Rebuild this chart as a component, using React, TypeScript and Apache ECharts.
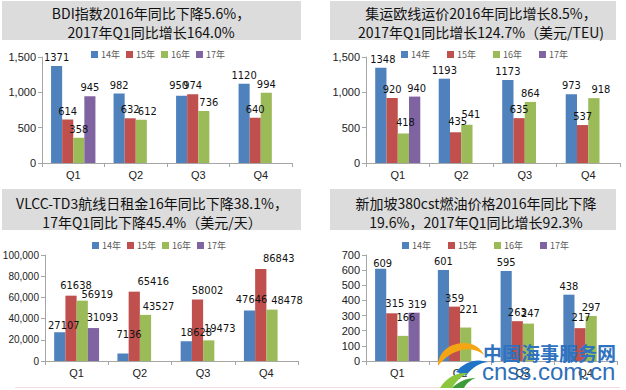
import React, { useEffect, useRef } from "react";
import * as echarts from "echarts";

const categories = ["Q1", "Q2", "Q3", "Q4"];
const seriesNames = ["14年", "15年", "16年", "17年"];
const colors = ["#4F81BD", "#C0504D", "#9BBB59", "#8064A2"];

// Panel 1: BDI
const bdi14 = [1371, 982, 950, 1120];
const bdi15 = [614, 632, 974, 640];
const bdi16 = [358, 612, 736, 994];
const bdi17 = [945, null, null, null];

// Panel 2: container freight Europe line
const box14 = [1348, 1193, 1173, 973];
const box15 = [920, 435, 635, 537];
const box16 = [418, 541, 864, 918];
const box17 = [940, null, null, null];

// Panel 3: VLCC-TD3
const vlcc14 = [27107, 7136, 18628, 47646];
const vlcc15 = [61638, 65416, 58002, 86843];
const vlcc16 = [56919, 43527, 19473, 48478];
const vlcc17 = [31093, null, null, null];

// Panel 4: Singapore 380cst
const fuel14 = [609, 601, 595, 438];
const fuel15 = [315, 359, 263, 217];
const fuel16 = [166, 221, 247, 297];
const fuel17 = [319, null, null, null];

const titles = [
  "BDI指数2016年同比下降5.6%，\n2017年Q1同比增长164.0%",
  "集运欧线运价2016年同比增长8.5%，\n2017年Q1同比增长124.7%（美元/TEU)",
  "VLCC-TD3航线日租金16年同比下降38.1%，\n17年Q1同比下降45.4%（美元/天）",
  "新加坡380cst燃油价格2016年同比下降\n19.6%，2017年Q1同比增长92.3%",
];

const yMax = [1500, 1500, 100000, 700];
const yInterval = [500, 500, 20000, 100];

const panelData = [
  [bdi14, bdi15, bdi16, bdi17],
  [box14, box15, box16, box17],
  [vlcc14, vlcc15, vlcc16, vlcc17],
  [fuel14, fuel15, fuel16, fuel17],
];

// layout (style only)
const grids = [
  { left: 42, top: 57, width: 250, height: 106 },
  { left: 366, top: 57, width: 254, height: 106 },
  { left: 45, top: 255, width: 253, height: 106 },
  { left: 366, top: 255, width: 251, height: 106 },
];
const yLabelSize = [11, 11, 10, 11];

const titleBoxes = [
  { x: 2, y: 1, w: 299, h: 39, cx: 151, cy: 22 },
  { x: 330, y: 1, w: 286, h: 39, cx: 481, cy: 22 },
  { x: 2, y: 189, w: 299, h: 41, cx: 152, cy: 212 },
  { x: 330, y: 189, w: 286, h: 41, cx: 476, cy: 212 },
];

const legendPos = [
  { left: 86, top: 45, gap: 6 },
  { left: 396, top: 45, gap: 17 },
  { left: 87, top: 236, gap: 6 },
  { left: 397, top: 236, gap: 17 },
];

// label nudges: [panel, series, index, dx, dy]
const labelNudges: number[][] = [
  [0, 2, 1, 6, 0],
  [0, 0, 2, -3, -2],
  [0, 2, 2, 5, 0],
  [1, 0, 0, 2, 0],
  [1, 3, 0, 2, 0],
  [1, 2, 0, 2, -2],
  [1, 1, 1, 2, -2],
  [1, 2, 1, 4, -2],
  [1, 2, 3, 7, 0],
  [2, 0, 0, 4, 2],
  [2, 1, 0, 5, -2],
  [2, 2, 0, 15, 2],
  [2, 3, 0, 9, -2],
  [2, 0, 1, 6, -10],
  [2, 1, 1, 19, -2],
  [2, 2, 1, 13, 0],
  [2, 0, 2, 10, 0],
  [2, 1, 2, 10, -1],
  [2, 2, 2, 11, -3],
  [2, 0, 3, 2, -2],
  [2, 1, 3, 18, -2],
  [2, 2, 3, 15, -1],
  [3, 0, 0, 2, 3],
  [3, 1, 0, 3, -1],
  [3, 2, 0, 3, -10],
  [3, 3, 0, 3, 0],
  [3, 2, 1, 3, -10],
  [3, 2, 2, 2, -2],
  [3, 1, 3, 1, -2],
];

const FONT = "'Liberation Sans', Arial, sans-serif";
const NARROW = "'Liberation Sans Narrow', 'DejaVu Sans Condensed', 'Liberation Sans', sans-serif";
const CJK = "'Noto Sans CJK SC', 'Noto Sans', sans-serif";

const orangeD =
  "M2 24 C2 10 14 1 28 1 C38 1 45 6 48 13 C42 8 34 6 26 8 C16 10 8 16 2 24 Z";
const blueD =
  "M20 30 C28 20 40 16 52 20 C44 21 36 25 30 34 C27 32 24 31 20 30 Z";
const greenD = "M4 46 C10 36 20 30 32 31 C26 34 20 39 16 46 Z";
const green2D = "M16 46 C22 40 30 36 40 36 C34 38 30 42 28 46 Z";

echarts.graphic.registerShape("logoOrange", echarts.graphic.extendPath(orangeD, {}));
echarts.graphic.registerShape("logoBlue", echarts.graphic.extendPath(blueD, {}));
echarts.graphic.registerShape("logoGreen", echarts.graphic.extendPath(greenD, {}));
echarts.graphic.registerShape("logoGreen2", echarts.graphic.extendPath(green2D, {}));

export default function App() {
  const ref = useRef<HTMLDivElement>(null);
  useEffect(() => {
    if (!ref.current) return;
    const chart = echarts.init(ref.current, undefined, { renderer: "svg" });

    const xAxis = grids.map((_, i) => ({
      type: "category",
      gridIndex: i,
      data: categories,
      axisLine: { lineStyle: { color: "#a6a6a6", width: 1 } },
      axisTick: { show: true, length: 4, lineStyle: { color: "#a6a6a6" } },
      axisLabel: { color: "#222", fontSize: 11, fontFamily: FONT, margin: 6 },
    }));
    const yAxis = grids.map((_, i) => ({
      type: "value",
      gridIndex: i,
      min: 0,
      max: yMax[i],
      interval: yInterval[i],
      splitLine: { show: false },
      axisLine: { show: true, lineStyle: { color: "#a6a6a6", width: 1 } },
      axisTick: { show: true, length: 4, lineStyle: { color: "#a6a6a6" } },
      axisLabel: {
        color: "#222",
        fontSize: yLabelSize[i],
        fontFamily: FONT,
        margin: 6,
        formatter: (v: number) => v.toLocaleString("en-US"),
      },
    }));

    const nudge = (p: number, s: number, k: number) => {
      const n = labelNudges.find((r) => r[0] === p && r[1] === s && r[2] === k);
      return n ? [n[3], n[4]] : [0, 0];
    };

    const series: any[] = [];
    panelData.forEach((arrs, gi) => {
      arrs.forEach((arr, si) => {
        series.push({
          type: "bar",
          name: seriesNames[si],
          xAxisIndex: gi,
          yAxisIndex: gi,
          data: arr.map((v, k) =>
            v == null ? null : { value: v, label: { offset: nudge(gi, si, k) } }
          ),
          barGap: "0%",
          barCategoryGap: "29%",
          itemStyle: { color: colors[si] },
          label: {
            show: true,
            position: "top",
            distance: 3,
            color: "#111",
            fontSize: 11,
            fontFamily: NARROW,
            formatter: (p: any) => (p.value == null ? "" : String(p.value)),
          },
        });
      });
    });

    const legend = legendPos.map((lp) => ({
      data: seriesNames,
      left: lp.left,
      top: lp.top,
      itemGap: lp.gap,
      itemWidth: 7,
      itemHeight: 7,
      icon: "rect",
      selectedMode: false,
      textStyle: { fontSize: 9, color: "#595959", fontFamily: CJK, padding: [0, 0, 0, -2] },
    }));

    const graphic: any[] = [];
    titleBoxes.forEach((b, i) => {
      graphic.push({
        type: "rect",
        shape: { x: b.x, y: b.y, width: b.w, height: b.h },
        style: { fill: "#dcdcdc" },
        z: 1,
      });
      graphic.push({
        type: "text",
        x: b.cx,
        y: b.cy,
        style: {
          text: titles[i],
          fill: "#111",
          fontSize: 14,
          fontFamily: CJK,
          textAlign: "center",
          textVerticalAlign: "middle",
          lineHeight: 19,
        },
        z: 2,
      });
    });
    graphic.push({
      type: "line",
      shape: { x1: 15, y1: 387.5, x2: 620, y2: 387.5 },
      style: { stroke: "#f2dede", lineWidth: 1 },
    });
    // watermark (drawn on top)
    const wm: any[] = [
      { type: "logoOrange", x: 436, y: 342, style: { fill: "#f3a514" } },
      { type: "logoBlue", x: 436, y: 342, style: { fill: "#1f74c6" } },
      { type: "logoGreen", x: 436, y: 342, style: { fill: "#8cc63f" } },
      { type: "logoGreen2", x: 436, y: 342, style: { fill: "#3f9b3a" } },
      {
        type: "text",
        x: 483,
        y: 352,
        style: {
          text: "中国海事服务网",
          fill: "#2f72bf",
          fontSize: 19,
          fontWeight: "bold",
          fontFamily: CJK,
          textVerticalAlign: "middle",
        },
      },
      {
        type: "text",
        x: 482,
        y: 371,
        style: {
          text: "cnss.com.cn",
          fill: "#2f6fb8",
          fontSize: 24,
          fontFamily: "'Liberation Sans', Arial, sans-serif",
          textVerticalAlign: "middle",
        },
      },
    ];
    wm.forEach((el) => graphic.push({ ...el, z: 100 }));

    chart.setOption({
      animation: false,
      backgroundColor: "#ffffff",
      grid: grids.map((g) => ({ ...g, containLabel: false, outerBoundsMode: "none" })),
      xAxis,
      yAxis,
      series,
      legend,
      graphic,
    });
    return () => chart.dispose();
  }, []);
  return (
    <div
      ref={ref}
      style={{ position: "absolute", left: 0, top: 0, width: 626, height: 390 }}
    />
  );
}
